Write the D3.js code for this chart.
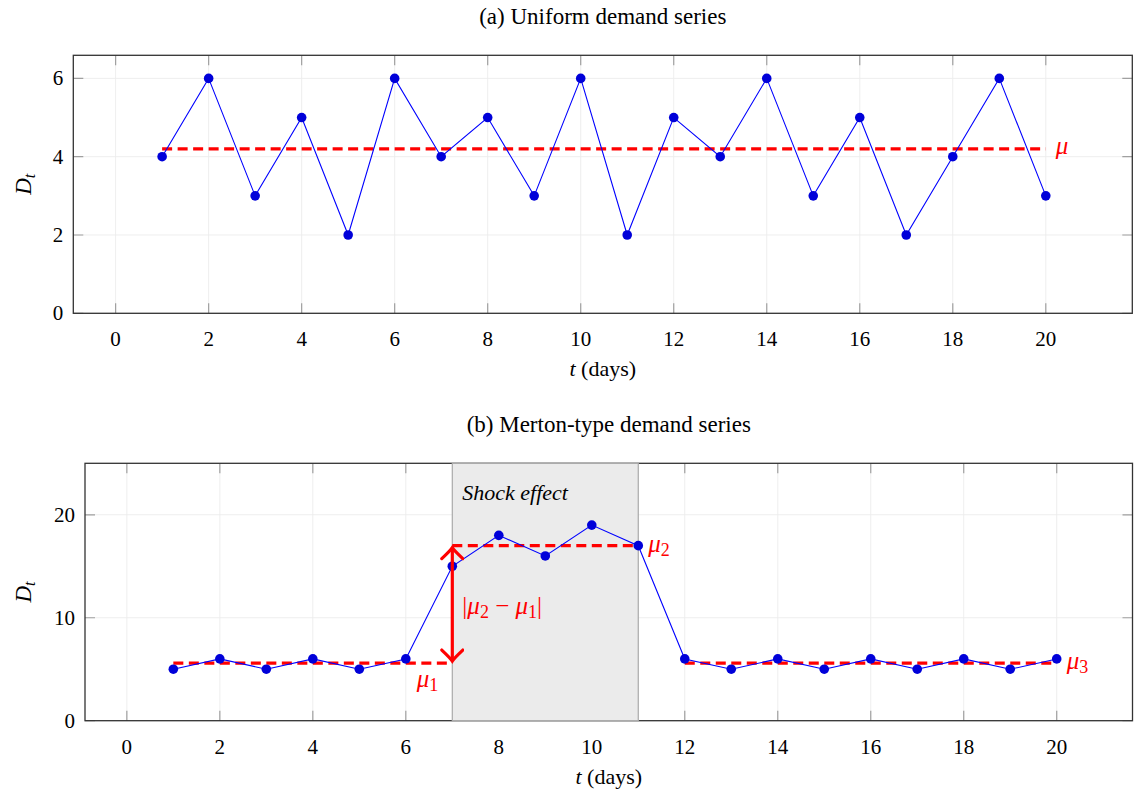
<!DOCTYPE html>
<html>
    <head>
        <meta charset="utf-8">
        <script src="https://d3js.org/d3.v7.min.js"></script>
        <style>
            body {
                margin: 0;
                background: #fff;
            }
            svg text {
                font-family: "Liberation Serif", serif;
                fill: #000;
            }
        </style>
    </head>
    <body>
        <svg></svg>
    </body>
    <script>
        // data
        var days = [1, 2, 3, 4, 5, 6, 7, 8, 9, 10, 11, 12, 13, 14, 15, 16, 17, 18, 19, 20];
        var uniformDemand = [4, 6, 3, 5, 2, 6, 4, 5, 3, 6, 2, 5, 4, 6, 3, 5, 2, 4, 6, 3];
        var mertonDemand = [5, 6, 5, 6, 5, 6, 15, 18, 16, 19, 17, 6, 5, 6, 5, 6, 5, 6, 5, 6];

        // mean levels: [from day, to day, value, label subscript]
        var uniformMeans = [[1, 20, 4.2, '']];
        var mertonMeans = [[1, 7, 5.6, '1'], [7, 11, 17, '2'], [12, 20, 5.6, '3']];
        var shockWindow = [7, 11];

        var xTicks = [0, 2, 4, 6, 8, 10, 12, 14, 16, 18, 20];
        var yTicksA = [0, 2, 4, 6];
        var yTicksB = [0, 10, 20];

        var titles = ['(a) Uniform demand series', '(b) Merton-type demand series'];

        // size
        var W = 1134, H = 789;
        var svg = d3.select('svg').attr('width', W).attr('height', H);

        var defs = svg.append('defs');
        defs.append('marker')
            .attr('id', 'arrowhead')
            .attr('viewBox', '-14 -12 17 24')
            .attr('markerWidth', 17)
            .attr('markerHeight', 24)
            .attr('markerUnits', 'userSpaceOnUse')
            .attr('refX', 0)
            .attr('refY', 0)
            .attr('orient', 'auto-start-reverse')
        .append('path')
            .attr('d', 'M-11,-10.5 Q-3,-2 0,0 Q-3,2 -11,10.5')
            .attr('fill', 'none')
            .attr('stroke', '#ff0000')
            .attr('stroke-width', 3.2)
            .attr('stroke-linecap', 'round');

        function panel(opt) {
            var x = d3.scaleLinear().domain(opt.xDomain).range([opt.left, opt.right]);
            var y = d3.scaleLinear().domain(opt.yDomain).range([opt.bottom, opt.top]);
            var g = svg.append('g');

            // grid
            g.selectAll('.gx').data(xTicks).enter().append('line')
                .attr('x1', function (d) { return x(d); })
                .attr('x2', function (d) { return x(d); })
                .attr('y1', opt.top).attr('y2', opt.bottom)
                .attr('stroke', '#ececec').attr('stroke-width', 0.9);
            g.selectAll('.gy').data(opt.yTicks).enter().append('line')
                .attr('y1', function (d) { return y(d); })
                .attr('y2', function (d) { return y(d); })
                .attr('x1', opt.left).attr('x2', opt.right)
                .attr('stroke', '#ececec').attr('stroke-width', 0.9);

            // tick marks, inside on all four sides
            var tl = 10;
            g.selectAll('.tb').data(xTicks).enter().append('path')
                .attr('d', function (d) {
                    return 'M' + x(d) + ',' + opt.bottom + 'v' + (-tl) +
                        'M' + x(d) + ',' + opt.top + 'v' + tl;
                })
                .attr('stroke', '#a0a0a0').attr('stroke-width', 1.2);
            g.selectAll('.tl').data(opt.yTicks).enter().append('path')
                .attr('d', function (d) {
                    return 'M' + opt.left + ',' + y(d) + 'h' + tl +
                        'M' + opt.right + ',' + y(d) + 'h' + (-tl);
                })
                .attr('stroke', '#a0a0a0').attr('stroke-width', 1.2);

            // frame
            g.append('rect')
                .attr('x', opt.left).attr('y', opt.top)
                .attr('width', opt.right - opt.left).attr('height', opt.bottom - opt.top)
                .attr('fill', 'none').attr('stroke', '#333').attr('stroke-width', 1.3);

            // tick labels
            g.selectAll('.xl').data(xTicks).enter().append('text')
                .attr('x', function (d) { return x(d); })
                .attr('y', opt.bottom + 33)
                .attr('text-anchor', 'middle')
                .style('font-size', '21px')
                .text(function (d) { return d; });
            g.selectAll('.yl').data(opt.yTicks).enter().append('text')
                .attr('x', opt.left - 10)
                .attr('y', function (d) { return y(d) + 7; })
                .attr('text-anchor', 'end')
                .style('font-size', '21px')
                .text(function (d) { return d; });

            // axis labels
            var xl = g.append('text')
                .attr('x', (opt.left + opt.right) / 2)
                .attr('y', opt.bottom + 63)
                .attr('text-anchor', 'middle')
                .style('font-size', '22px');
            xl.append('tspan').style('font-style', 'italic').text('t');
            xl.append('tspan').text(' (days)');

            var yl = g.append('text')
                .attr('transform', 'translate(' + 31 + ',' + (opt.top + opt.bottom) / 2 + ') rotate(-90)')
                .attr('text-anchor', 'middle')
                .style('font-size', '23px');
            yl.append('tspan').style('font-style', 'italic').text('D');
            yl.append('tspan').style('font-style', 'italic').style('font-size', '16px')
                .attr('dy', 4).text('t');

            // title
            g.append('text')
                .attr('x', (opt.left + opt.right) / 2)
                .attr('y', opt.top - 31)
                .attr('text-anchor', 'middle')
                .style('font-size', '23px')
                .text(opt.title);

            return {x: x, y: y, g: g};
        }

        function meanLabel(g, px, py, sub, anchor) {
            var t = g.append('text')
                .attr('x', px).attr('y', py)
                .attr('text-anchor', anchor || 'start')
                .style('font-size', '25px')
                .style('fill', '#ff0000');
            t.append('tspan').style('font-style', 'italic').text('μ');
            if (sub) {
                t.append('tspan').style('font-size', '18px').attr('dy', 4).text(sub);
            }
            return t;
        }

        function series(p, values, means) {
            var line = d3.line()
                .x(function (d, i) { return p.x(days[i]); })
                .y(function (d) { return p.y(d); });

            p.g.selectAll('.mean').data(means).enter().append('line')
                .attr('x1', function (d) { return p.x(d[0]); })
                .attr('x2', function (d) { return p.x(d[1]); })
                .attr('y1', function (d) { return p.y(d[2]); })
                .attr('y2', function (d) { return p.y(d[2]); })
                .attr('stroke', '#ff0000')
                .attr('stroke-width', 3.2)
                .attr('stroke-dasharray', '10,5.5');

            p.g.append('path')
                .datum(values)
                .attr('d', line)
                .attr('fill', 'none')
                .attr('stroke', '#0000ff')
                .attr('stroke-width', 1.1);

            p.g.selectAll('.dot').data(values).enter().append('circle')
                .attr('cx', function (d, i) { return p.x(days[i]); })
                .attr('cy', function (d) { return p.y(d); })
                .attr('r', 4.8)
                .attr('fill', '#0000d9');
        }

        // (a)
        var pa = panel({
            left: 73.3, right: 1132.3, top: 55.3, bottom: 313.3,
            xDomain: [-0.91, 21.86], yDomain: [0, 6.59],
            yTicks: yTicksA, title: titles[0]
        });
        series(pa, uniformDemand, uniformMeans);
        meanLabel(pa.g, pa.x(uniformMeans[0][1]) + 10, pa.y(uniformMeans[0][2]) + 5, '');

        // (b)
        var pb = panel({
            left: 85, right: 1132.5, top: 463.3, bottom: 720.7,
            xDomain: [-0.9, 21.63], yDomain: [0, 25],
            yTicks: yTicksB, title: titles[1]
        });

        // shock window
        pb.g.append('rect')
            .attr('x', pb.x(shockWindow[0]))
            .attr('y', pb.y(25))
            .attr('width', pb.x(shockWindow[1]) - pb.x(shockWindow[0]))
            .attr('height', pb.y(0) - pb.y(25))
            .attr('fill', '#ebebeb')
            .attr('stroke', '#aaaaaa')
            .attr('stroke-width', 1.2);
        pb.g.append('text')
            .attr('x', pb.x(shockWindow[0]) + 10)
            .attr('y', pb.y(25) + 37)
            .style('font-size', '22px')
            .style('font-style', 'italic')
            .text('Shock effect');

        series(pb, mertonDemand, mertonMeans);

        // jump arrow
        pb.g.append('line')
            .attr('x1', pb.x(shockWindow[0])).attr('x2', pb.x(shockWindow[0]))
            .attr('y1', pb.y(mertonMeans[0][2]) - 2)
            .attr('y2', pb.y(mertonMeans[1][2]) + 2)
            .attr('stroke', '#ff0000')
            .attr('stroke-width', 3.2)
            .attr('marker-start', 'url(#arrowhead)')
            .attr('marker-end', 'url(#arrowhead)');

        var jl = pb.g.append('text')
            .attr('x', pb.x(shockWindow[0]) + 10)
            .attr('y', (pb.y(mertonMeans[0][2]) + pb.y(mertonMeans[1][2])) / 2 + 10)
            .style('font-size', '25px')
            .style('fill', '#ff0000');
        jl.append('tspan').text('|');
        jl.append('tspan').style('font-style', 'italic').text('μ');
        jl.append('tspan').style('font-size', '18px').attr('dy', 4).text('2');
        jl.append('tspan').attr('dy', -4).text(' − ');
        jl.append('tspan').style('font-style', 'italic').text('μ');
        jl.append('tspan').style('font-size', '18px').attr('dy', 4).text('1');
        jl.append('tspan').attr('dy', -4).text('|');

        meanLabel(pb.g, pb.x(mertonMeans[0][1]) - 14, pb.y(mertonMeans[0][2]) + 24, '1', 'end');
        meanLabel(pb.g, pb.x(mertonMeans[1][1]) + 10, pb.y(mertonMeans[1][2]) + 6, '2');
        meanLabel(pb.g, pb.x(mertonMeans[2][1]) + 10, pb.y(mertonMeans[2][2]) + 6, '3');
    </script>
</html>
